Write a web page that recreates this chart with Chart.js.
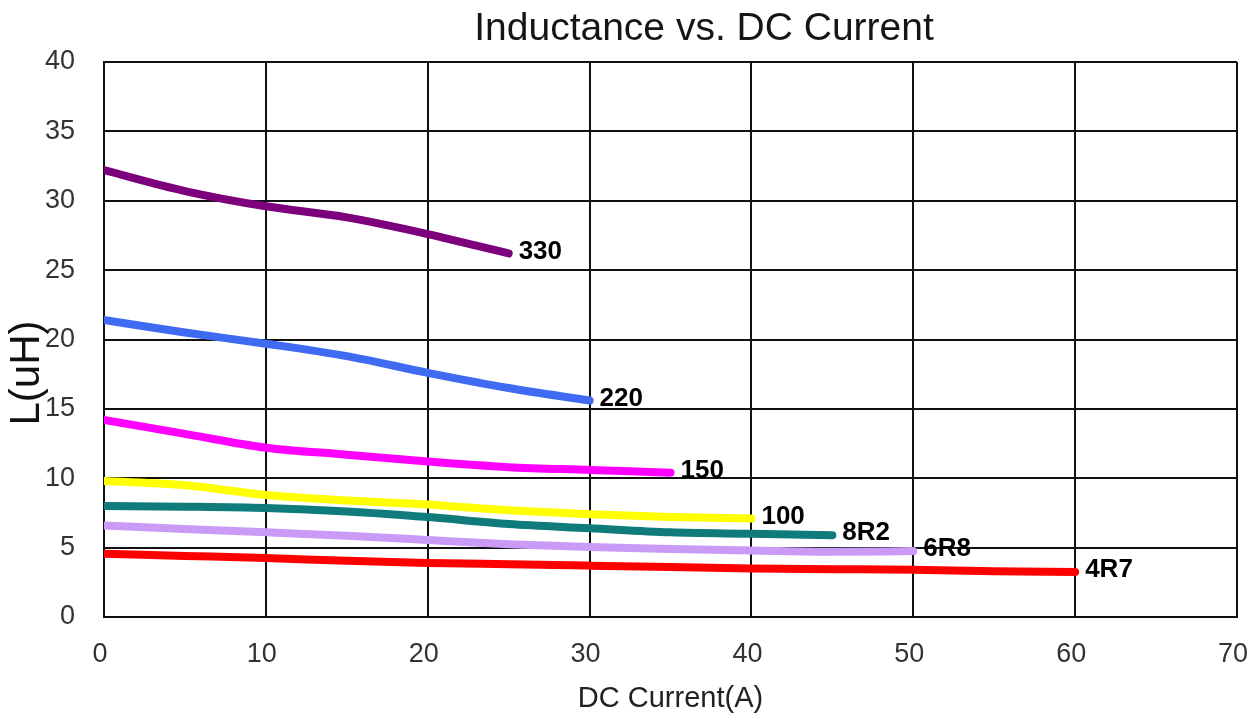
<!DOCTYPE html>
<html>
<head>
<meta charset="utf-8">
<title>Inductance vs. DC Current</title>
<script src="https://cdn.jsdelivr.net/npm/chart.js"></script>
<style>
  body { margin: 0; background: #fff; }
  #wrap { width: 1256px; height: 720px; }
</style>
</head>
<body>
<div id="wrap"><canvas id="inductanceChart" width="1256" height="720"></canvas></div>
<script>
// DC current (A), one point every 5 A
const currentA = [0, 5, 10, 15, 20, 25, 30, 35, 40, 45, 50, 55, 60];

// inductance (uH), each series stops at its rated current
const L330 = [32.2, 30.7, 29.6, 28.8, 27.6, 26.2];
const L220 = [21.4, 20.5, 19.7, 18.8, 17.6, 16.5, 15.6];
const L150 = [14.2, 13.2, 12.2, 11.7, 11.2, 10.8, 10.6, 10.4];
const L100 = [9.8, 9.5, 8.8, 8.4, 8.1, 7.7, 7.4, 7.2, 7.1];
const L8R2 = [8.0, 7.95, 7.85, 7.6, 7.2, 6.7, 6.4, 6.1, 6.0, 5.9];
const L6R8 = [6.6, 6.35, 6.1, 5.85, 5.55, 5.25, 5.05, 4.9, 4.8, 4.7, 4.75];
const L4R7 = [4.55, 4.4, 4.25, 4.05, 3.9, 3.8, 3.7, 3.6, 3.5, 3.45, 3.4, 3.3, 3.25];

const seriesNames = ["330", "220", "150", "100", "8R2", "6R8", "4R7"];
const seriesValues = [L330, L220, L150, L100, L8R2, L6R8, L4R7];
const seriesColors = ["#7d007d", "#3f6af2", "#ff00ff", "#ffff00", "#107b7b", "#c99bf7", "#ff0000"];

const plain = "'Liberation Sans', Arial, sans-serif";

// part number written just after the last point of each curve
const endLabels = {
  id: "endLabels",
  afterDatasetsDraw(chart) {
    const ctx = chart.ctx;
    ctx.save();
    ctx.font = "bold 26px " + plain;
    ctx.fillStyle = "#000";
    ctx.textBaseline = "middle";
    chart.data.datasets.forEach((ds, i) => {
      const pts = chart.getDatasetMeta(i).data;
      const last = pts[pts.length - 1];
      ctx.fillText(ds.label, last.x + 10, last.y - 2);
    });
    ctx.restore();
  },
};

// title and y title sit off-centre in the original, so draw them here
const titles = {
  id: "titles",
  afterDraw(chart) {
    const ctx = chart.ctx;
    ctx.save();
    ctx.fillStyle = "#151515";
    ctx.textAlign = "center";
    ctx.textBaseline = "middle";
    ctx.font = "39px " + plain;
    ctx.fillText("Inductance vs. DC Current", 704, 29);
    ctx.translate(27, 373);
    ctx.rotate(-Math.PI / 2);
    ctx.font = "42px " + plain;
    ctx.fillStyle = "#111";
    ctx.fillText("L(uH)", 0, 0);
    ctx.restore();
  },
};

const ctx = document.getElementById("inductanceChart");

new Chart(ctx, {
  type: "line",
  data: {
    datasets: seriesNames.map((name, i) => ({
      label: name,
      data: seriesValues[i].map((v, j) => ({ x: currentA[j], y: v })),
      borderColor: seriesColors[i],
      borderWidth: 8,
      borderCapStyle: "round",
      borderJoinStyle: "round",
      pointRadius: 0,
      fill: false,
      cubicInterpolationMode: "monotone",
    })),
  },
  options: {
    responsive: false,
    animation: false,
    layout: {
      padding: { top: 62, right: 19, left: 0, bottom: 0 },
    },
    scales: {
      x: {
        type: "linear",
        min: 0,
        max: 70,
        afterFit(scale) {
          scale.height = 103;
          scale.paddingLeft = 0;
          scale.paddingRight = 0;
        },
        ticks: {
          stepSize: 10,
          padding: 21,
          labelOffset: -4,
          color: "#333",
          font: { family: plain, size: 27 },
        },
        grid: { color: "#111", lineWidth: 2, drawTicks: false },
        border: { color: "#111", width: 2 },
        title: {
          display: true,
          text: "DC Current(A)",
          color: "#222",
          font: { family: plain, size: 29 },
          padding: { top: 0, bottom: 4 },
        },
      },
      y: {
        min: 0,
        max: 40,
        afterFit(scale) {
          scale.width = 104;
          scale.paddingTop = 0;
          scale.paddingBottom = 0;
        },
        ticks: {
          stepSize: 5,
          padding: 29,
          color: "#333",
          font: { family: plain, size: 27 },
        },
        grid: { color: "#111", lineWidth: 2, drawTicks: false },
        border: { color: "#111", width: 2 },
      },
    },
    plugins: {
      legend: { display: false },
      tooltip: { enabled: false },
    },
  },
  plugins: [endLabels, titles],
});
</script>
</body>
</html>
